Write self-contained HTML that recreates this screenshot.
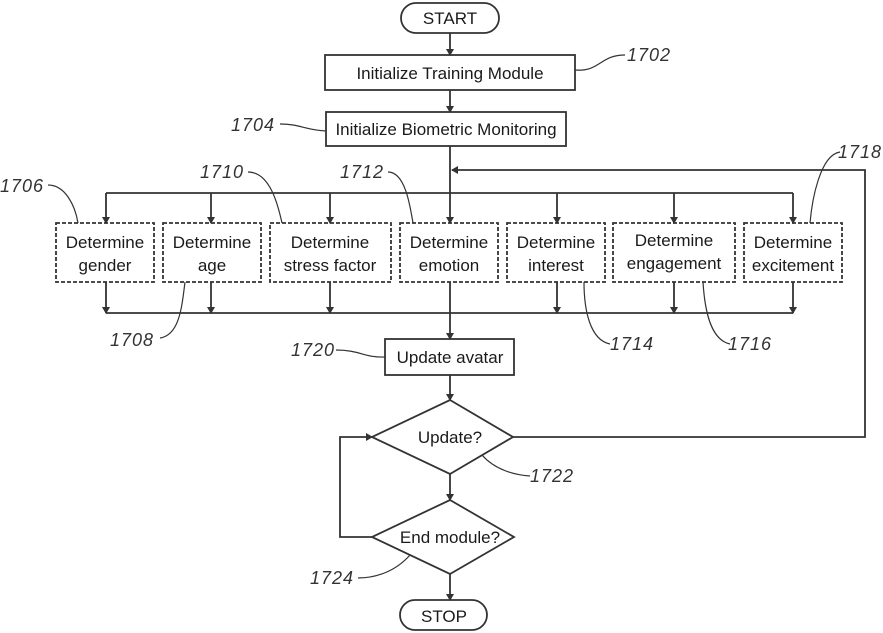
<!DOCTYPE html>
<html><head><meta charset="utf-8"><style>
html,body{margin:0;padding:0;background:#fff;}
svg{display:block;}
text{font-family:"Liberation Sans",sans-serif;fill:#1a1a1a;}
.t{font-size:17px;text-anchor:middle;}
.r{font-size:18px;font-style:italic;fill:#333;letter-spacing:1px;}
</style></head><body>
<svg width="883" height="633" viewBox="0 0 883 633" xmlns="http://www.w3.org/2000/svg">
<defs><marker id="a" markerWidth="8" markerHeight="8" refX="6" refY="4" orient="auto" markerUnits="userSpaceOnUse"><path d="M0,0 L7,4 L0,8 Z" fill="#333"/></marker></defs>
<g stroke="#333" stroke-width="1.8" fill="none">
<rect x="401" y="3" width="98" height="30" rx="15"/>
<rect x="325" y="55" width="250" height="35"/>
<rect x="326" y="112" width="240" height="34"/>
<g stroke-dasharray="4,2">
<rect x="56" y="223" width="98" height="59"/>
<rect x="163" y="223" width="98" height="59"/>
<rect x="270" y="223" width="121" height="59"/>
<rect x="400" y="223" width="98" height="59"/>
<rect x="507" y="223" width="98" height="59"/>
<rect x="613" y="223" width="122" height="59"/>
<rect x="744" y="223" width="98" height="59"/>
</g>
<rect x="385" y="339" width="129" height="36"/>
<path d="M450,400 L513,437 L450,474 L372,437 Z"/>
<path d="M450,500 L514,537 L450,574 L372,537 Z"/>
<rect x="400" y="600" width="87" height="30" rx="15"/>
<path d="M450,33 V55" marker-end="url(#a)"/>
<path d="M450,90 V112" marker-end="url(#a)"/>
<path d="M450,146 V223" marker-end="url(#a)"/>
<path d="M106,193 H793"/>
<path d="M106,193 V223" marker-end="url(#a)"/>
<path d="M211,193 V223" marker-end="url(#a)"/>
<path d="M330,193 V223" marker-end="url(#a)"/>
<path d="M557,193 V223" marker-end="url(#a)"/>
<path d="M674,193 V223" marker-end="url(#a)"/>
<path d="M793,193 V223" marker-end="url(#a)"/>
<path d="M106,313 H793"/>
<path d="M106,282 V313" marker-end="url(#a)"/>
<path d="M211,282 V313" marker-end="url(#a)"/>
<path d="M330,282 V313" marker-end="url(#a)"/>
<path d="M557,282 V313" marker-end="url(#a)"/>
<path d="M674,282 V313" marker-end="url(#a)"/>
<path d="M793,282 V313" marker-end="url(#a)"/>
<path d="M450,282 V339" marker-end="url(#a)"/>
<path d="M450,375 V400" marker-end="url(#a)"/>
<path d="M450,474 V500" marker-end="url(#a)"/>
<path d="M450,574 V600" marker-end="url(#a)"/>
<path d="M513,437 H865 V170 H452" marker-end="url(#a)"/>
<path d="M372,537 H340 V437 H372" marker-end="url(#a)"/>
<g stroke-width="1.2">
<path d="M575,70 C600,72 600,55 625,55"/>
<path d="M280,124 C300,124 305,130 326,131"/>
<path d="M48,185 C65,185 75,205 78,223"/>
<path d="M248,172 C270,172 278,205 282,223"/>
<path d="M388,172 C405,172 410,205 413,223"/>
<path d="M840,152 C820,155 812,200 810,223"/>
<path d="M185,282 C182,305 180,335 160,338"/>
<path d="M584,282 C584,310 590,340 610,344"/>
<path d="M703,282 C705,315 712,340 730,344"/>
<path d="M336,350 C360,350 365,358 385,357"/>
<path d="M482,455 C495,470 515,475 530,476"/>
<path d="M410,555 C395,572 375,578 358,578"/>
</g>
</g>
<text class="t" x="450" y="24">START</text>
<text class="t" x="450" y="79">Initialize Training Module</text>
<text class="t" x="446" y="135">Initialize Biometric Monitoring</text>
<text class="t" x="105" y="248">Determine</text><text class="t" x="105" y="271">gender</text>
<text class="t" x="212" y="248">Determine</text><text class="t" x="212" y="271">age</text>
<text class="t" x="330" y="248">Determine</text><text class="t" x="330" y="271">stress factor</text>
<text class="t" x="449" y="248">Determine</text><text class="t" x="449" y="271">emotion</text>
<text class="t" x="556" y="248">Determine</text><text class="t" x="556" y="271">interest</text>
<text class="t" x="674" y="246">Determine</text><text class="t" x="674" y="269">engagement</text>
<text class="t" x="793" y="248">Determine</text><text class="t" x="793" y="271">excitement</text>
<text class="t" x="450" y="363">Update avatar</text>
<text class="t" x="450" y="443">Update?</text>
<text class="t" x="450" y="543">End module?</text>
<text class="t" x="444" y="622">STOP</text>
<text class="r" x="627" y="61">1702</text>
<text class="r" x="231" y="131">1704</text>
<text class="r" x="0" y="192">1706</text>
<text class="r" x="200" y="178">1710</text>
<text class="r" x="340" y="178">1712</text>
<text class="r" x="838" y="158">1718</text>
<text class="r" x="110" y="346">1708</text>
<text class="r" x="610" y="350">1714</text>
<text class="r" x="728" y="350">1716</text>
<text class="r" x="291" y="356">1720</text>
<text class="r" x="530" y="482">1722</text>
<text class="r" x="310" y="584">1724</text>
</svg>
</body></html>
